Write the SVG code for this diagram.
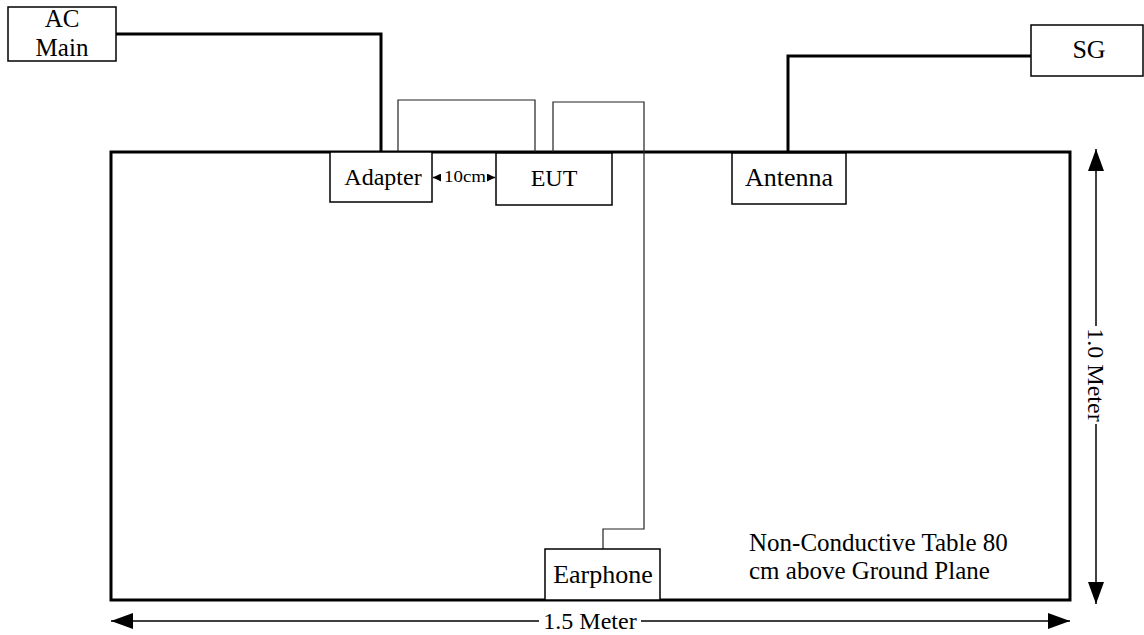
<svg xmlns="http://www.w3.org/2000/svg" width="1144" height="635" viewBox="0 0 1144 635">
<style>
.box{fill:#fff;stroke:#000;stroke-width:1.5}
.t{font-family:"Liberation Serif","Times New Roman",serif;font-size:24px;fill:#000}
.b{font-size:26px}
.n{font-size:25px}
.c{text-anchor:middle}
.thick{fill:none;stroke:#000;stroke-width:3}
.thin{fill:none;stroke:#222;stroke-width:1.2}
.dim{fill:none;stroke:#000;stroke-width:1.5}
</style>
<defs>
<marker id="ah" viewBox="0 0 22 16" refX="22" refY="8" markerWidth="22" markerHeight="16" markerUnits="userSpaceOnUse" orient="auto">
<path d="M0,0 L22,8 L0,16 Z" fill="#000"/>
</marker>
<marker id="sh" viewBox="0 0 8 8" refX="8" refY="4" markerWidth="8" markerHeight="8" markerUnits="userSpaceOnUse" orient="auto">
<path d="M0,0 L8,4 L0,8 Z" fill="#000"/>
</marker>
</defs>
<rect width="1144" height="635" fill="#fff"/>
<g id="table">
<rect x="111" y="152" width="959" height="448" fill="none" stroke="#000" stroke-width="3"/>
<text class="t n" x="749" y="551">Non-Conductive Table 80</text>
<text class="t n" x="749" y="579">cm above Ground Plane</text>
</g>
<g id="connectors">
<path class="thick" d="M116,34 H381 V152"/>
<path class="thick" d="M788,152 V56 H1031"/>
<path class="thin" d="M398,152 V100 H535 V152"/>
<path class="thin" d="M553,152 V102 H644 V529 H603 V549"/>
<line class="dim" x1="460" y1="177.5" x2="433" y2="177.5" marker-end="url(#sh)"/>
<line class="dim" x1="470" y1="177.5" x2="495" y2="177.5" marker-end="url(#sh)"/>
<line class="dim" x1="539" y1="621" x2="111" y2="621" marker-end="url(#ah)"/>
<line class="dim" x1="641" y1="621" x2="1070" y2="621" marker-end="url(#ah)"/>
<line class="dim" x1="1096" y1="326" x2="1096" y2="149" marker-end="url(#ah)"/>
<line class="dim" x1="1096" y1="424" x2="1096" y2="604" marker-end="url(#ah)"/>
</g>
<g id="ac-main">
<rect class="box" x="8" y="7" width="108" height="54"/>
<text class="t c" x="62" y="27" style="font-size:25px">AC</text>
<text class="t c" x="62" y="56" style="font-size:25px">Main</text>
</g>
<g id="sg">
<rect class="box" x="1031" y="25" width="112" height="51"/>
<text class="t c b" x="1089" y="58">SG</text>
</g>
<g id="adapter">
<rect class="box" x="330" y="152" width="102" height="50"/>
<text class="t c" x="383" y="185">Adapter</text>
</g>
<g id="eut">
<rect class="box" x="496" y="153" width="116" height="52"/>
<text class="t c" x="554" y="186">EUT</text>
</g>
<g id="antenna">
<rect class="box" x="732" y="153" width="114" height="51"/>
<text class="t c b" x="789" y="186">Antenna</text>
</g>
<g id="earphone">
<rect class="box" x="545" y="549" width="115" height="51"/>
<text class="t c b" x="603" y="583">Earphone</text>
</g>
<g id="labels">
<rect x="441" y="168" width="46" height="18" fill="#fff"/>
<text class="t c" x="465" y="182" style="font-size:16px" textLength="42" lengthAdjust="spacingAndGlyphs">10cm</text>
<text class="t c" x="590" y="629">1.5 Meter</text>
<text class="t c" transform="translate(1088,375) rotate(90)">1.0 Meter</text>
</g>
</svg>
